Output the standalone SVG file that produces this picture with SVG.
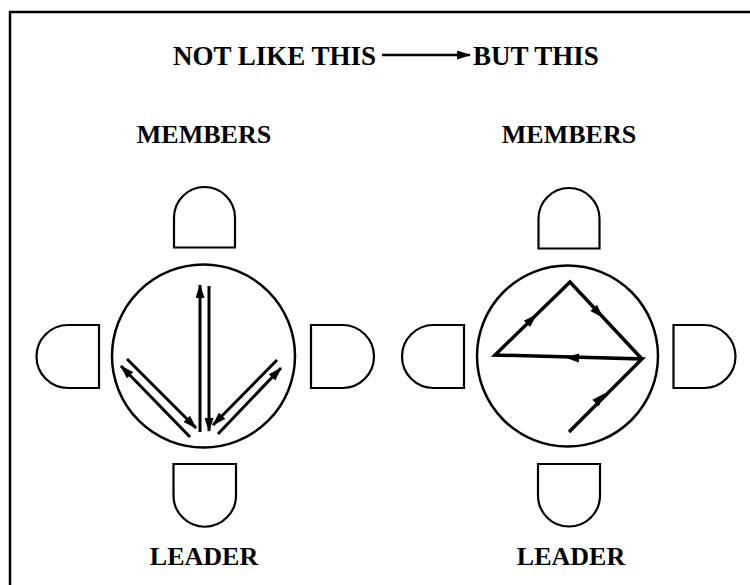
<svg xmlns="http://www.w3.org/2000/svg" width="750" height="585" viewBox="0 0 750 585">
<defs>
<style>
.t{font-family:"Liberation Serif","Times New Roman",serif;font-weight:bold;fill:#000}
.s{fill:#fff;stroke:#000;stroke-width:2.2}
.c{fill:none;stroke:#000;stroke-width:2.5}
.a{fill:none;stroke:#000;stroke-width:3}
</style>
<marker id="ah" viewBox="0 0 14 9" refX="13" refY="4.5" markerWidth="14" markerHeight="9" markerUnits="userSpaceOnUse" orient="auto">
<path d="M0,0 L14,4.5 L0,9 Z" fill="#000"/>
</marker>
<path id="mh" d="M-7,-4.5 L7,0 L-7,4.5 Z" fill="#000"/>
</defs>
<rect width="750" height="585" fill="#fff"/>
<path d="M10,585 V12 H750" fill="none" stroke="#000" stroke-width="2.5"/>

<g id="title">
<text class="t" x="173" y="65" font-size="27">NOT LIKE THIS</text>
<text class="t" x="473" y="65" font-size="27">BUT THIS</text>
</g>

<g id="left-diagram">
<text class="t" x="204" y="143" font-size="26" text-anchor="middle">MEMBERS</text>
<g id="left-table"><circle class="c" cx="203.5" cy="356" r="91.5"/></g>
<g id="left-chair-top"><path class="s" d="M174,247.5 V217.5 A30.5,30.5 0 0 1 235,217.5 V247.5 Z"/></g>
<g id="left-chair-left"><path class="s" d="M99,325 H68 A31.5,31.5 0 0 0 68,388 H99 Z"/></g>
<g id="left-chair-right"><path class="s" d="M311,325 H342.5 A31.5,31.5 0 0 1 342.5,388 H311 Z"/></g>
<g id="left-chair-bottom"><path class="s" d="M173.5,464 H236 V495.5 A31.25,31.25 0 0 1 173.5,495.5 Z"/></g>
<text class="t" x="204" y="565" font-size="26" text-anchor="middle">LEADER</text>
</g>

<g id="right-diagram">
<text class="t" x="569" y="143" font-size="26" text-anchor="middle">MEMBERS</text>
<g id="right-table"><circle class="c" cx="567.5" cy="356" r="90.5"/></g>
<g id="right-chair-top"><path class="s" d="M538.5,248.5 V218.5 A30.5,30.5 0 0 1 599.5,218.5 V248.5 Z"/></g>
<g id="right-chair-left"><path class="s" d="M464,325 H433.5 A31.5,31.5 0 0 0 433.5,388 H464 Z"/></g>
<g id="right-chair-right"><path class="s" d="M673.5,325 H704 A31.5,31.5 0 0 1 704,388 H673.5 Z"/></g>
<g id="right-chair-bottom"><path class="s" d="M538,464 H600 V495.5 A31,31 0 0 1 538,495.5 Z"/></g>
<text class="t" x="571" y="565" font-size="26" text-anchor="middle">LEADER</text>
</g>

<g id="connectors">
<line x1="382" y1="55" x2="470" y2="55" stroke="#000" stroke-width="2.5" marker-end="url(#ah)"/>
<line class="a" x1="200" y1="432" x2="200" y2="285" marker-end="url(#ah)"/>
<line class="a" x1="209" y1="286" x2="209" y2="431" marker-end="url(#ah)"/>
<line class="a" x1="190" y1="437" x2="121" y2="366" marker-end="url(#ah)"/>
<line class="a" x1="127" y1="359" x2="196" y2="428" marker-end="url(#ah)"/>
<line class="a" x1="277" y1="360" x2="213" y2="425" marker-end="url(#ah)"/>
<line class="a" x1="218" y1="434" x2="281" y2="368" marker-end="url(#ah)"/>
<path d="M569,432 L642,359 L495,355 L570,282 L642,359" fill="none" stroke="#000" stroke-width="3.5" stroke-linejoin="miter"/>
<use href="#mh" transform="translate(600.5,398) rotate(-45)"/>
<use href="#mh" transform="translate(572,357.8) rotate(181.6)"/>
<use href="#mh" transform="translate(532,319) rotate(-44.2)"/>
<use href="#mh" transform="translate(598.5,313) rotate(46.9)"/>
</g>
</svg>
